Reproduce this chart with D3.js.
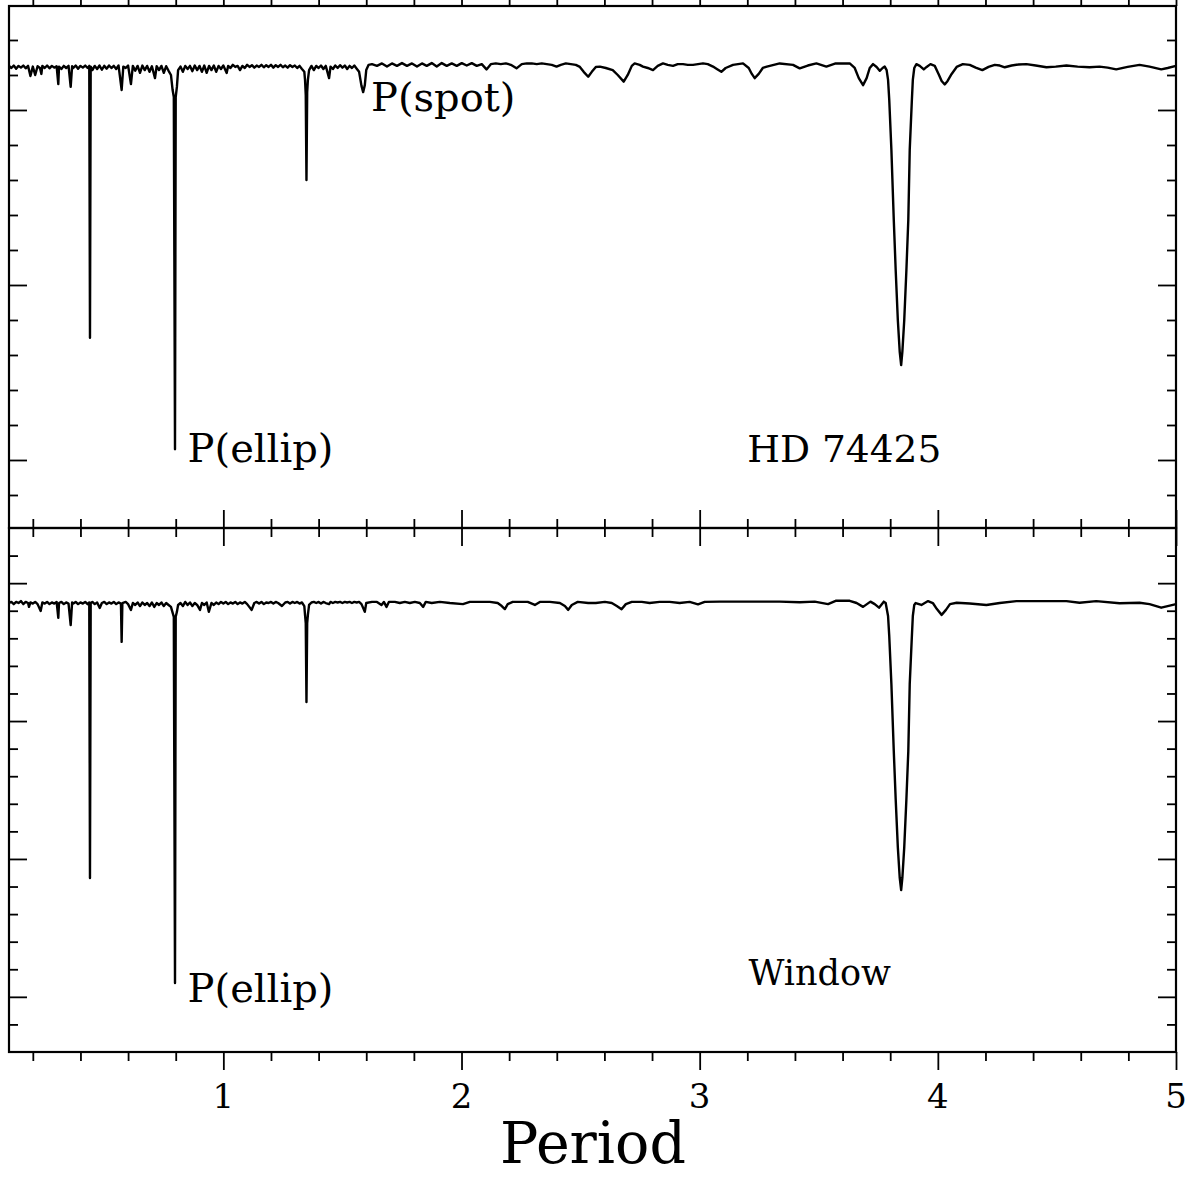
<html>
<head>
<meta charset="UTF-8"/>
<script src="https://d3js.org/d3.v7.min.js"></script>
<style>
body { margin:0; background:#fff; }
text { font-family:"DejaVu Serif", serif; fill:#000; }
</style>
</head>
<body>
<script>
// period grid and theta values (top: HD 74425, bottom: window)
const hdPeriodogram = [
 [0.10,1.626],[0.11,1.620],[0.12,1.627],[0.13,1.618],[0.14,1.626],[0.15,1.621],[0.16,1.627],[0.17,1.619],[0.18,1.626],[0.19,1.597],
 [0.20,1.624],[0.21,1.600],[0.22,1.625],[0.23,1.620],[0.236,1.603],[0.24,1.626],[0.25,1.620],[0.26,1.627],[0.27,1.619],[0.28,1.626],
 [0.29,1.621],[0.30,1.625],[0.307,1.574],[0.31,1.624],[0.32,1.617],[0.33,1.626],[0.34,1.620],[0.35,1.626],[0.359,1.566],[0.365,1.625],
 [0.37,1.620],[0.38,1.627],[0.39,1.618],[0.40,1.626],[0.41,1.621],[0.42,1.627],[0.43,1.620],[0.437,1.626],[0.440,0.849],[0.443,1.624],
 [0.45,1.614],[0.46,1.626],[0.47,1.617],[0.48,1.627],[0.49,1.615],[0.50,1.626],[0.51,1.618],[0.52,1.627],[0.53,1.620],[0.54,1.626],
 [0.55,1.617],[0.56,1.627],[0.573,1.557],[0.58,1.624],[0.59,1.620],[0.60,1.627],[0.612,1.574],[0.62,1.626],[0.63,1.612],[0.64,1.626],
 [0.65,1.606],[0.66,1.627],[0.67,1.614],[0.68,1.626],[0.69,1.609],[0.70,1.625],[0.713,1.591],[0.72,1.625],[0.73,1.614],[0.74,1.626],
 [0.75,1.606],[0.76,1.625],[0.77,1.612],[0.78,1.600],[0.787,1.557],[0.792,1.537],[0.797,0.531],[0.800,1.537],[0.805,1.566],[0.81,1.614],
 [0.82,1.624],[0.83,1.609],[0.84,1.626],[0.85,1.617],[0.86,1.626],[0.87,1.611],[0.88,1.627],[0.89,1.614],[0.90,1.626],[0.91,1.609],
 [0.92,1.627],[0.93,1.606],[0.94,1.626],[0.95,1.614],[0.96,1.627],[0.97,1.609],[0.98,1.626],[0.99,1.617],[1.00,1.627],[1.014,1.606],
 [1.02,1.626],[1.03,1.620],[1.04,1.629],[1.05,1.623],[1.06,1.626],[1.07,1.614],[1.08,1.626],[1.09,1.620],[1.10,1.629],[1.11,1.623],
 [1.12,1.628],[1.13,1.621],[1.14,1.627],[1.15,1.623],[1.16,1.629],[1.17,1.622],[1.18,1.628],[1.19,1.623],[1.20,1.629],[1.21,1.621],
 [1.22,1.628],[1.23,1.623],[1.24,1.629],[1.25,1.622],[1.26,1.627],[1.27,1.621],[1.28,1.628],[1.29,1.623],[1.30,1.627],[1.31,1.620],
 [1.32,1.626],[1.33,1.617],[1.34,1.609],[1.343,1.586],[1.346,1.543],[1.349,1.300],[1.352,1.551],[1.355,1.586],[1.36,1.614],[1.37,1.626],
 [1.38,1.614],[1.39,1.626],[1.40,1.620],[1.41,1.627],[1.42,1.617],[1.43,1.626],[1.444,1.591],[1.45,1.624],[1.46,1.617],[1.47,1.627],
 [1.48,1.620],[1.49,1.628],[1.50,1.621],[1.51,1.627],[1.52,1.617],[1.53,1.626],[1.54,1.620],[1.55,1.627],[1.56,1.618],[1.57,1.609],
 [1.58,1.569],[1.587,1.551],[1.594,1.571],[1.60,1.614],[1.61,1.629],
 [1.624,1.631],[1.645,1.626],[1.666,1.633],[1.687,1.624],[1.708,1.633],[1.729,1.626],[1.750,1.634],[1.771,1.626],[1.792,1.633],[1.813,1.624],
 [1.834,1.633],[1.854,1.626],[1.875,1.634],[1.896,1.624],[1.917,1.634],[1.938,1.626],[1.959,1.633],[1.980,1.626],[2.001,1.634],[2.022,1.627],
 [2.043,1.634],[2.064,1.626],[2.085,1.631],[2.105,1.616],[2.123,1.631],[2.144,1.633],[2.165,1.631],[2.186,1.633],[2.207,1.629],[2.231,1.619],
 [2.253,1.631],[2.274,1.633],[2.295,1.633],[2.316,1.631],[2.337,1.633],[2.358,1.631],[2.379,1.629],[2.399,1.624],[2.417,1.629],[2.438,1.633],
 [2.459,1.631],[2.480,1.629],[2.497,1.623],[2.513,1.609],[2.532,1.595],[2.547,1.609],[2.564,1.623],[2.581,1.624],[2.606,1.620],[2.635,1.614],
 [2.656,1.600],[2.681,1.581],[2.698,1.600],[2.715,1.626],[2.727,1.633],[2.748,1.629],[2.762,1.624],[2.782,1.620],[2.804,1.614],[2.824,1.626],
 [2.846,1.633],[2.866,1.629],[2.888,1.626],[2.908,1.631],[2.930,1.631],[2.950,1.629],[2.972,1.629],[3.014,1.633],[3.034,1.631],[3.056,1.624],
 [3.072,1.617],[3.091,1.609],[3.109,1.620],[3.140,1.629],[3.182,1.633],[3.206,1.620],[3.219,1.603],[3.231,1.591],[3.248,1.603],[3.265,1.620],
 [3.282,1.624],[3.336,1.633],[3.392,1.629],[3.420,1.619],[3.454,1.627],[3.490,1.633],[3.532,1.624],[3.571,1.633],[3.630,1.633],[3.651,1.620],
 [3.668,1.591],[3.686,1.571],[3.701,1.591],[3.714,1.620],[3.728,1.631],[3.743,1.623],[3.756,1.612],[3.768,1.620],[3.777,1.624],[3.785,1.614],
 [3.791,1.586],[3.796,1.529],[3.805,1.386],[3.815,1.186],[3.823,1.043],[3.832,0.900],[3.840,0.809],[3.846,0.771],[3.851,0.809],[3.859,0.900],
 [3.868,1.043],[3.876,1.186],[3.882,1.386],[3.891,1.529],[3.895,1.586],[3.901,1.620],[3.910,1.631],[3.924,1.626],[3.941,1.616],[3.953,1.623],
 [3.969,1.631],[3.987,1.626],[4.003,1.603],[4.016,1.583],[4.029,1.573],[4.041,1.583],[4.058,1.603],[4.079,1.623],[4.105,1.631],[4.134,1.629],
 [4.159,1.621],[4.187,1.614],[4.213,1.623],[4.239,1.629],[4.260,1.627],[4.281,1.622],[4.310,1.627],[4.339,1.630],[4.372,1.631],[4.411,1.627],
 [4.456,1.622],[4.495,1.624],[4.540,1.627],[4.587,1.624],[4.637,1.622],[4.679,1.624],[4.713,1.621],[4.749,1.616],[4.797,1.623],[4.847,1.629],
 [4.889,1.624],[4.938,1.616],[4.965,1.620],[5.000,1.626]
];

const windowPeriodogram = [
 [0.10,1.928],[0.11,1.932],[0.12,1.924],[0.13,1.932],[0.14,1.928],[0.15,1.935],[0.16,1.924],[0.17,1.932],[0.18,1.928],[0.184,1.914],
 [0.19,1.930],[0.20,1.926],[0.21,1.932],[0.22,1.924],[0.233,1.899],[0.24,1.930],[0.25,1.926],[0.26,1.932],[0.27,1.924],[0.28,1.930],
 [0.29,1.926],[0.30,1.932],[0.307,1.874],[0.31,1.928],[0.32,1.932],[0.33,1.924],[0.34,1.930],[0.35,1.926],[0.359,1.848],[0.365,1.930],
 [0.37,1.926],[0.38,1.932],[0.39,1.924],[0.40,1.930],[0.41,1.926],[0.42,1.932],[0.43,1.924],[0.437,1.930],[0.440,0.931],[0.443,1.928],
 [0.45,1.932],[0.46,1.924],[0.47,1.930],[0.481,1.910],[0.49,1.928],[0.50,1.932],[0.51,1.924],[0.52,1.930],[0.53,1.926],[0.54,1.932],
 [0.55,1.924],[0.56,1.930],[0.57,1.926],[0.573,1.787],[0.576,1.928],[0.59,1.932],[0.60,1.924],[0.612,1.903],[0.62,1.928],[0.63,1.921],
 [0.64,1.930],[0.65,1.917],[0.66,1.930],[0.67,1.921],[0.68,1.928],[0.69,1.917],[0.70,1.930],[0.71,1.914],[0.72,1.928],[0.73,1.921],
 [0.74,1.930],[0.75,1.917],[0.76,1.928],[0.77,1.921],[0.78,1.914],[0.786,1.896],[0.792,1.878],[0.797,0.550],[0.800,1.878],[0.805,1.896],
 [0.81,1.921],[0.82,1.928],[0.83,1.917],[0.84,1.932],[0.85,1.921],[0.86,1.930],[0.87,1.917],[0.88,1.928],[0.89,1.921],[0.902,1.903],
 [0.91,1.928],[0.92,1.921],[0.93,1.930],[0.939,1.896],[0.95,1.928],[0.96,1.921],[0.97,1.930],[0.98,1.924],[0.99,1.932],[1.00,1.926],
 [1.01,1.932],[1.02,1.924],[1.03,1.930],[1.04,1.926],[1.05,1.932],[1.06,1.924],[1.07,1.930],[1.08,1.926],[1.09,1.932],[1.10,1.924],
 [1.119,1.903],[1.13,1.928],[1.14,1.932],[1.15,1.926],[1.16,1.932],[1.17,1.924],[1.18,1.930],[1.19,1.928],[1.20,1.932],[1.21,1.926],
 [1.22,1.932],[1.23,1.928],[1.246,1.917],[1.26,1.930],[1.27,1.932],[1.28,1.926],[1.29,1.932],[1.30,1.928],[1.31,1.932],[1.32,1.926],
 [1.33,1.930],[1.34,1.917],[1.343,1.885],[1.346,1.855],[1.349,1.569],[1.352,1.855],[1.355,1.885],[1.36,1.921],[1.37,1.930],[1.38,1.932],
 [1.39,1.928],[1.40,1.932],[1.41,1.926],[1.42,1.932],[1.43,1.928],[1.444,1.924],[1.45,1.932],[1.46,1.928],[1.47,1.932],[1.48,1.930],
 [1.49,1.932],[1.50,1.928],[1.51,1.932],[1.52,1.930],[1.53,1.932],[1.54,1.928],[1.55,1.932],[1.56,1.930],[1.57,1.932],[1.58,1.924],
 [1.594,1.896],[1.60,1.928],
 [1.624,1.932],[1.645,1.932],[1.664,1.921],[1.674,1.932],[1.685,1.914],[1.695,1.932],[1.720,1.932],[1.741,1.928],[1.762,1.932],[1.783,1.928],
 [1.804,1.932],[1.825,1.928],[1.839,1.914],[1.850,1.932],[1.875,1.928],[1.909,1.932],[1.951,1.928],[2.006,1.924],[2.035,1.932],[2.077,1.932],
 [2.119,1.932],[2.152,1.928],[2.169,1.917],[2.182,1.906],[2.194,1.924],[2.215,1.932],[2.245,1.932],[2.278,1.932],[2.308,1.921],[2.329,1.932],
 [2.371,1.932],[2.413,1.928],[2.434,1.917],[2.448,1.903],[2.463,1.921],[2.488,1.932],[2.532,1.928],[2.564,1.928],[2.602,1.932],[2.631,1.928],
 [2.652,1.917],[2.672,1.905],[2.690,1.924],[2.715,1.932],[2.757,1.932],[2.790,1.928],[2.832,1.932],[2.874,1.932],[2.916,1.928],[2.958,1.932],
 [2.993,1.923],[3.021,1.932],[3.084,1.933],[3.168,1.933],[3.252,1.933],[3.336,1.933],[3.420,1.931],[3.483,1.933],[3.539,1.924],[3.571,1.936],
 [3.630,1.936],[3.659,1.928],[3.686,1.914],[3.717,1.933],[3.735,1.924],[3.753,1.911],[3.773,1.933],[3.781,1.928],
 [3.791,1.881],[3.796,1.808],[3.805,1.634],[3.815,1.391],[3.823,1.217],[3.832,1.043],[3.840,0.931],[3.846,0.887],[3.851,0.931],[3.859,1.043],
 [3.868,1.217],[3.876,1.391],[3.882,1.634],[3.891,1.808],[3.895,1.881],[3.901,1.921],[3.907,1.928],[3.931,1.921],[3.959,1.935],[3.979,1.928],
 [3.996,1.906],[4.016,1.885],[4.034,1.903],[4.051,1.924],[4.079,1.929],[4.134,1.926],[4.204,1.921],[4.260,1.928],[4.330,1.935],[4.427,1.935],
 [4.540,1.935],[4.595,1.929],[4.665,1.935],[4.763,1.927],[4.847,1.929],[4.889,1.924],[4.938,1.911],[4.965,1.917],[5.000,1.924]
];

const xMajorTicks = [1, 2, 3, 4, 5];
const xMinorTicks = [0.2,0.4,0.6,0.8,1.2,1.4,1.6,1.8,2.2,2.4,2.6,2.8,3.2,3.4,3.6,3.8,4.2,4.4,4.6,4.8];
const topMajorTicks = [0.5, 1.0, 1.5];
const topMinorTicks = [0.4,0.6,0.7,0.8,0.9,1.1,1.2,1.3,1.4,1.6,1.7];
const botMajorTicks = [0.5, 1.0, 1.5, 2.0];
const botMinorTicks = [0.4,0.6,0.7,0.8,0.9,1.1,1.2,1.3,1.4,1.6,1.7,1.8,1.9,2.1];
const topLabels = [{t:"P(spot)", p:1.62, v:1.497}, {t:"P(ellip)", p:0.85, v:0.495}, {t:"HD 74425", p:3.20, v:0.495}];
const botLabels = [{t:"P(ellip)", p:0.85, v:0.48}, {t:"Window", p:3.205, v:0.543}];

var width = 1199, height = 1178;
var left = 9, right = 1176;
var topPanel = {y0:6, y1:528}, botPanel = {y0:528, y1:1052};
var labelSize = {"P(spot)":40, "P(ellip)":40, "HD 74425":37.5, "Window":35};

var svg = d3.select("body").append("svg")
	.attr("width", width)
	.attr("height", height);

var x = d3.scaleLinear().domain([0.1, 5]).range([left, right]);
var yTop = d3.scaleLinear().domain([0.3057, 1.7971]).range([topPanel.y1, topPanel.y0]);
var yBot = d3.scaleLinear().domain([0.3, 2.2]).range([botPanel.y1, botPanel.y0]);

function drawPanel(y, panel, data, labels, majorY, minorY){
	var g = svg.append("g");
	var h = panel.y1 - panel.y0;
	var w = right - left;

	// x ticks on the top and bottom edge, pointing inward
	[[d3.axisTop, panel.y1], [d3.axisBottom, panel.y0]].forEach(function(a){
		g.append("g").attr("transform", "translate(0," + a[1] + ")")
			.call(a[0](x).tickValues(xMajorTicks).tickSize(-18).tickFormat(""));
		g.append("g").attr("transform", "translate(0," + a[1] + ")")
			.call(a[0](x).tickValues(xMinorTicks).tickSize(-9).tickFormat(""));
	});
	// y ticks on both sides
	[[d3.axisLeft, left], [d3.axisRight, right]].forEach(function(a){
		g.append("g").attr("transform", "translate(" + a[1] + ",0)")
			.call(a[0](y).tickValues(majorY).tickSize(-18).tickFormat(""));
		g.append("g").attr("transform", "translate(" + a[1] + ",0)")
			.call(a[0](y).tickValues(minorY).tickSize(-9).tickFormat(""));
	});
	g.selectAll(".domain").remove();
	g.selectAll(".tick line").attr("stroke", "#000").attr("stroke-width", 1.8);

	g.append("rect")
		.attr("x", left).attr("y", panel.y0)
		.attr("width", w).attr("height", h)
		.attr("fill", "none").attr("stroke", "#000").attr("stroke-width", 2.2);

	var line = d3.line().x(d => x(d[0])).y(d => y(d[1]));
	g.append("path")
		.datum(data)
		.attr("fill", "none")
		.attr("stroke", "#000")
		.attr("stroke-width", 2.4)
		.attr("stroke-linejoin", "round")
		.attr("d", line);

	g.selectAll("text.lab").data(labels).enter().append("text")
		.attr("class", "lab")
		.attr("x", d => x(d.p)).attr("y", d => y(d.v))
		.attr("font-size", d => labelSize[d.t])
		.text(d => d.t);
}

drawPanel(yTop, topPanel, hdPeriodogram, topLabels, topMajorTicks, topMinorTicks);
drawPanel(yBot, botPanel, windowPeriodogram, botLabels, botMajorTicks, botMinorTicks);

// x tick labels and axis title
svg.append("g").selectAll("text").data(xMajorTicks).enter().append("text")
	.attr("x", d => x(d)).attr("y", 1108)
	.attr("text-anchor", "middle")
	.attr("font-size", 34)
	.text(d => d);

svg.append("text")
	.attr("x", 593).attr("y", 1163)
	.attr("text-anchor", "middle")
	.attr("font-size", 57)
	.text("Period");
</script>
</body>
</html>
